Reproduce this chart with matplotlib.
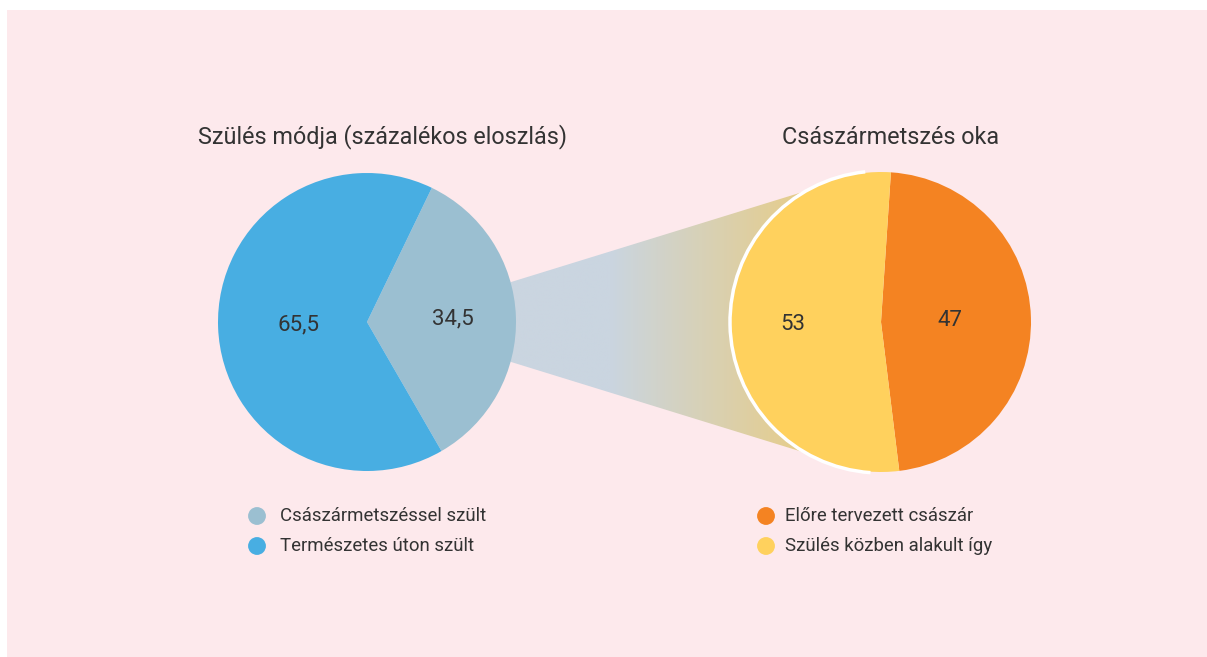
import numpy as np
import matplotlib.pyplot as plt
from matplotlib.patches import Polygon, Rectangle, Arc
from matplotlib.colors import to_rgb

plt.rcParams['font.family'] = ['Roboto', 'DejaVu Sans']

W, H = 1207, 657

# data
mode_title = 'Szülés módja (százalékos eloszlás)'
mode_labels = ['Császármetszéssel szült', 'Természetes úton szült']
mode_values = [34.5, 65.5]
mode_colors = ['#9bbfd1', '#48aee2']

reason_title = 'Császármetszés oka'
reason_labels = ['Előre tervezett császár', 'Szülés közben alakult így']
reason_values = [47, 53]
reason_colors = ['#f48322', '#ffd15d']

txt = '#333333'
bg = '#fde9ec'


def fmt(v):
    return ('%g' % v).replace('.', ',')


def to_y(y_img):
    return H - y_img


fig = plt.figure(figsize=(W / 100, H / 100), dpi=100)
fig.patch.set_facecolor('white')
ax = fig.add_axes([0, 0, 1, 1])

ax.add_patch(Rectangle((7, 0), W - 7, H - 10, facecolor=bg, edgecolor='none', zorder=0))

cL, rL = (367, to_y(322)), 149
cR, rR = (881, to_y(322)), 150

# left pie
wl, _ = ax.pie(mode_values, colors=mode_colors, startangle=-60, center=cL, radius=rL,
               wedgeprops=dict(linewidth=0))
for w in wl:
    w.set_zorder(2)
# right pie
wr, _ = ax.pie(reason_values, colors=reason_colors, startangle=-83, center=cR, radius=rR,
               wedgeprops=dict(linewidth=0))
for w in wr:
    w.set_zorder(2)
ax.add_patch(Arc(cR, 2 * rR + 2, 2 * rR + 2, theta1=96, theta2=266, color='white', lw=2.5, zorder=3))

# value labels
for wedges, vals, c, r, dists in [(wl, mode_values, cL, rL, [0.58, 0.46]),
                                  (wr, reason_values, cR, rR, [0.46, 0.59])]:
    for w, v, d in zip(wedges, vals, dists):
        mid = np.deg2rad((w.theta1 + w.theta2) / 2)
        ax.text(c[0] + d * r * np.cos(mid), c[1] + d * r * np.sin(mid), fmt(v),
                ha='center', va='center', fontsize=16, color=txt, zorder=4)

# connecting gradient band from the caesarean slice to the reason pie
a1, a2 = np.deg2rad(15.5), np.deg2rad(118)
lt = (cL[0] + rL * np.cos(a1), cL[1] + rL * np.sin(a1))
lb = (cL[0] + rL * np.cos(a1), cL[1] - rL * np.sin(a1))
rt = (cR[0] + rR * np.cos(a2), cR[1] + rR * np.sin(a2))
rb = (cR[0] + rR * np.cos(a2), cR[1] - rR * np.sin(a2))
band = Polygon([lt, rt, rb, lb], closed=True, facecolor='none', edgecolor='none')
ax.add_patch(band)
x0, x1 = lt[0] - 2, rt[0] + 5
n = 300
t = np.clip((np.linspace(0, 1, n) - 0.33) / 0.67, 0, 1)
c0, c1 = np.array(to_rgb('#cad5e0')), np.array(to_rgb('#e8cc84'))
grad = (c0[None, :] * (1 - t[:, None]) + c1[None, :] * t[:, None])[None, :, :]
im = ax.imshow(grad, extent=[x0, x1, rb[1], rt[1]], aspect='auto', zorder=1, interpolation='bilinear')
im.set_clip_path(band)

# titles
ax.text(383, to_y(137), mode_title, ha='center', va='center', fontsize=16.8, color=txt)
ax.text(891, to_y(137), reason_title, ha='center', va='center', fontsize=16.8, color=txt)

# legends
for mx, tx, labels, colors in [(257, 280, mode_labels, mode_colors),
                               (766, 785, reason_labels, reason_colors)]:
    for i, (lab, col) in enumerate(zip(labels, colors)):
        y = to_y(516 + 30 * i)
        ax.scatter([mx], [y], s=165, color=col, edgecolors='none', zorder=4)
        ax.text(tx, y, lab, ha='left', va='center', fontsize=13.4, color=txt)

ax.set_xlim(0, W)
ax.set_ylim(0, H)
ax.set_aspect('auto')
ax.axis('off')

fig.savefig('out.png', dpi=100, facecolor=fig.get_facecolor())
